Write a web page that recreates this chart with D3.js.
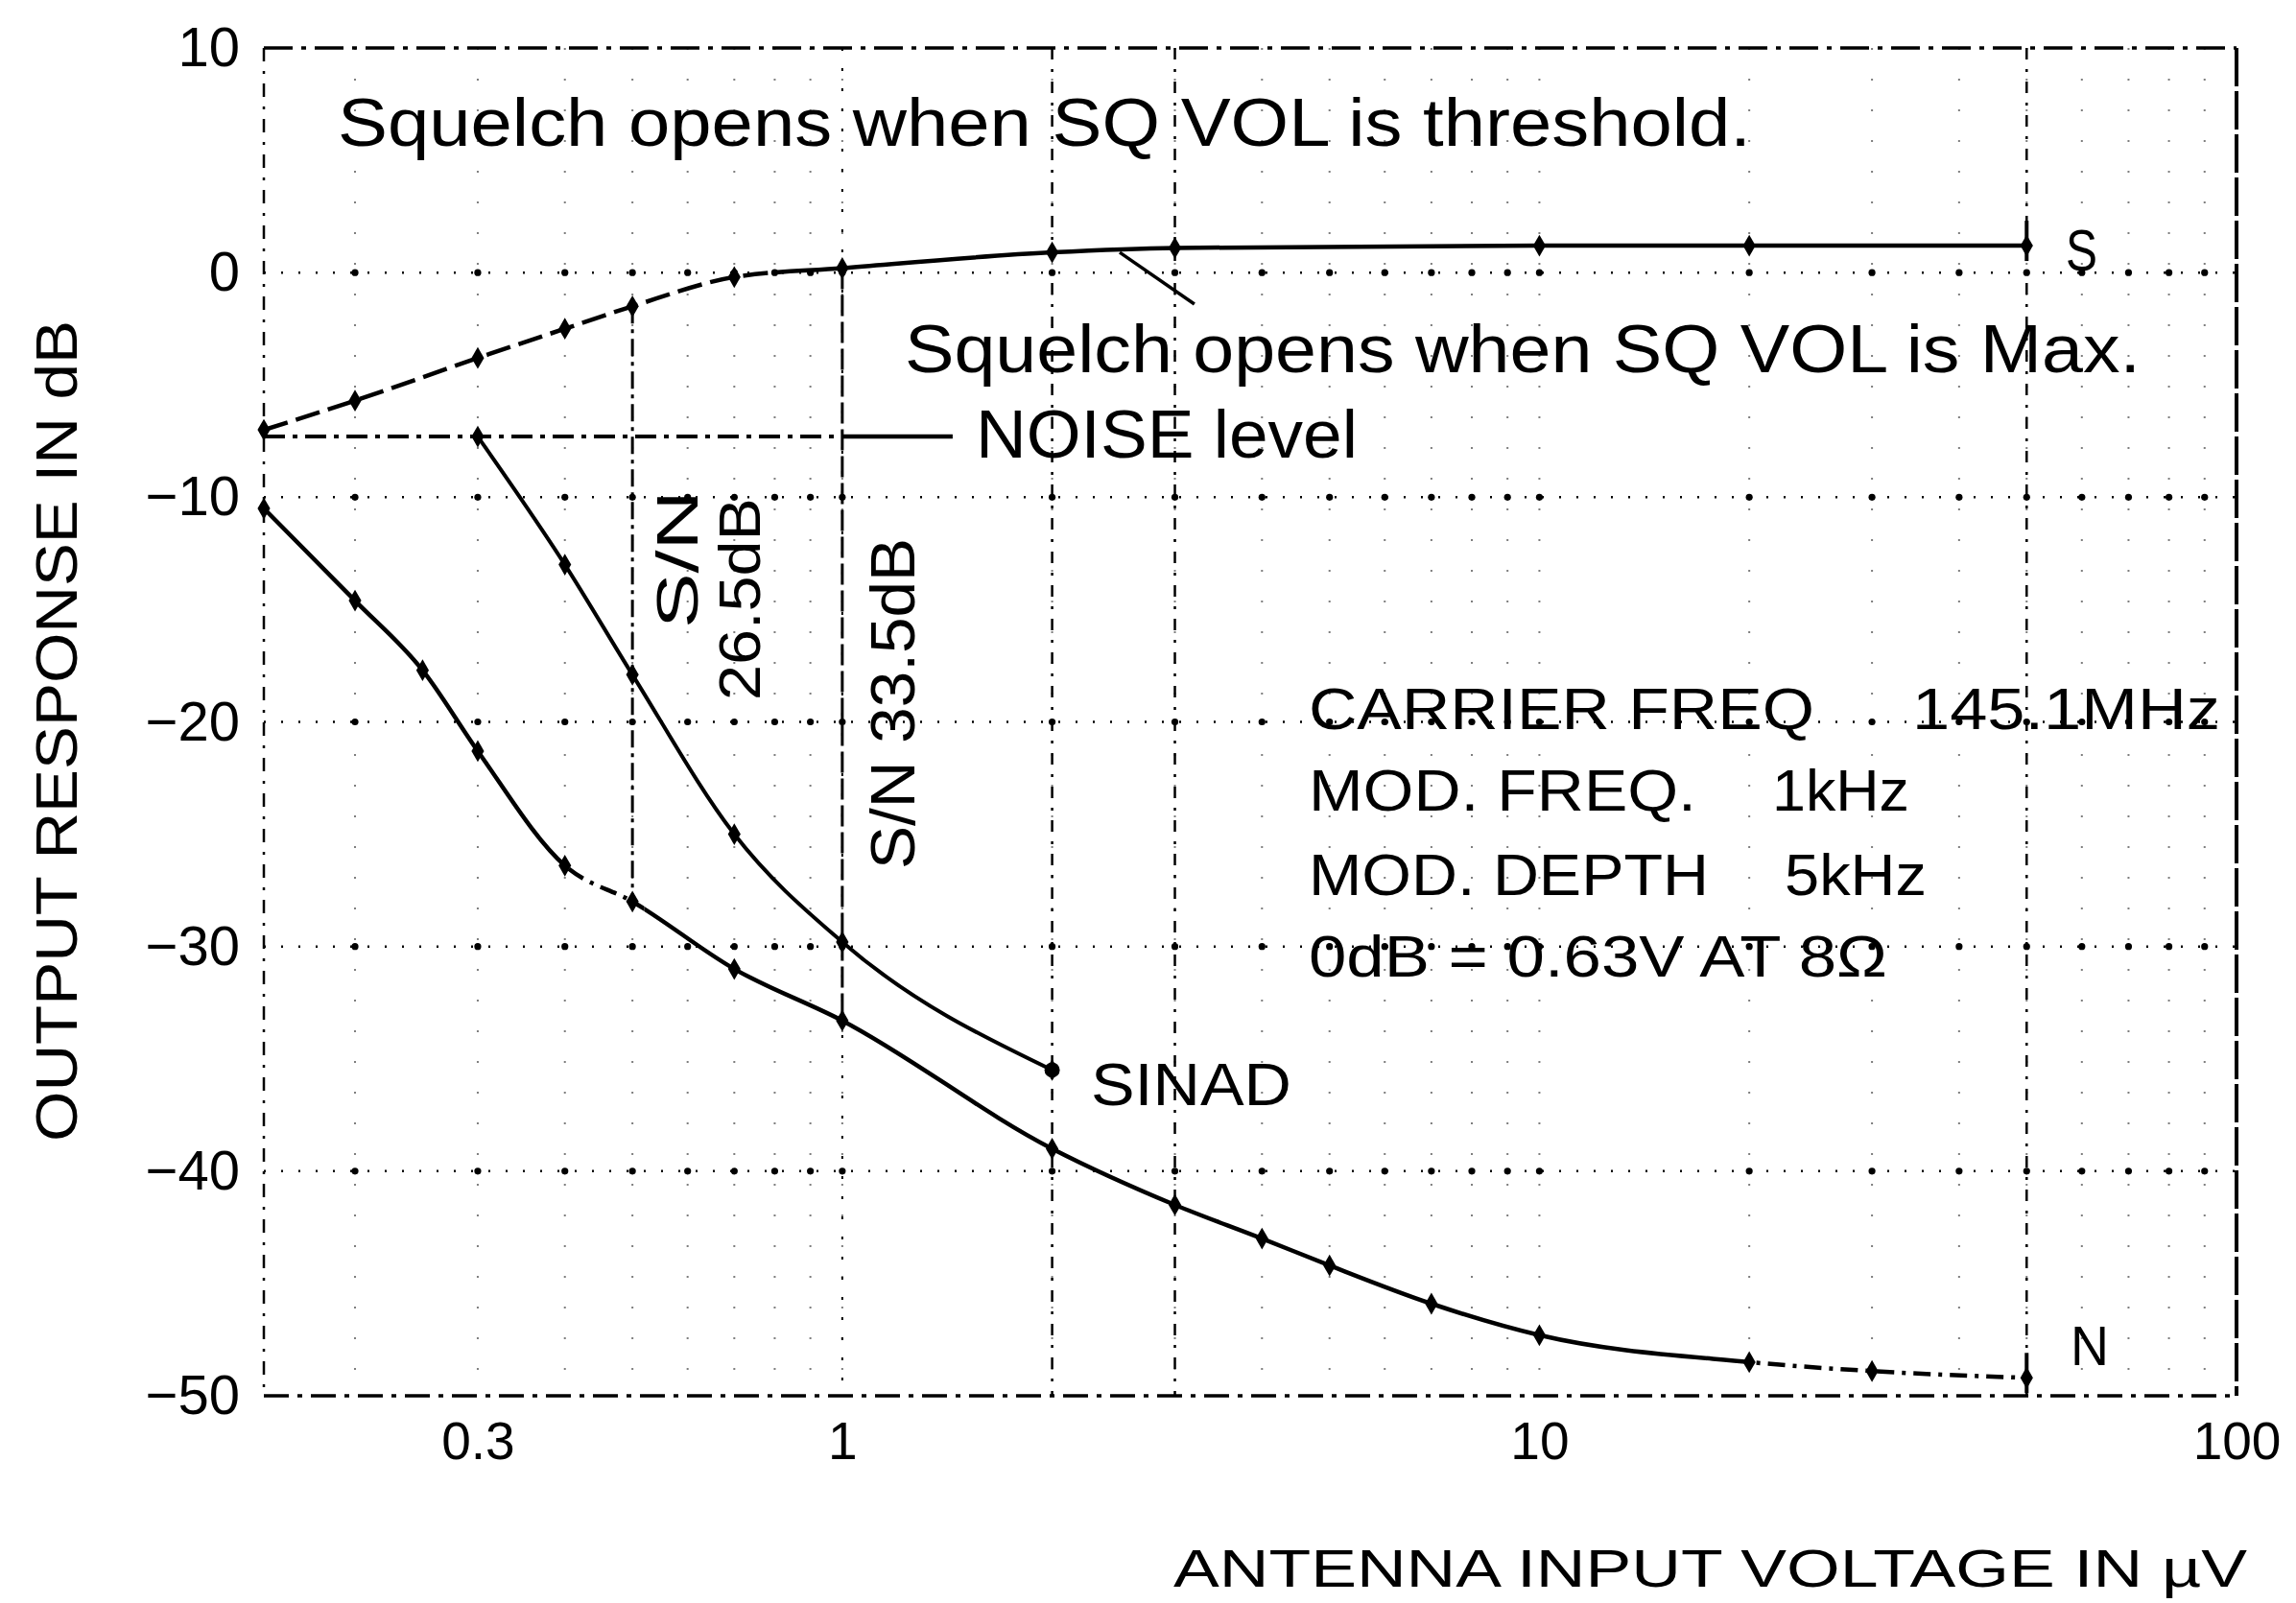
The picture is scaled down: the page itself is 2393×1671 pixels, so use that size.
<!DOCTYPE html>
<html>
<head>
<meta charset="utf-8">
<script src="https://cdn.jsdelivr.net/npm/d3@7"></script>
<style>
  html, body { margin: 0; padding: 0; background: #fff; }
  svg { display: block; }
  text { font-family: "Liberation Sans", Arial, Helvetica, sans-serif; fill: #000; }
</style>
</head>
<body>
<svg id="chart" width="2393" height="1671"></svg>
<script>
// ---- measured data (antenna input in µV, output in dB) ----
const sX = [0.148, 0.2, 0.3, 0.4, 0.5, 0.7, 1, 2, 3, 10, 20, 50];
const sY = [-7.0, -5.7, -3.8, -2.5, -1.5, -0.2, 0.2, 0.9, 1.1, 1.2, 1.2, 1.2];

const nX = [0.148, 0.2, 0.25, 0.3, 0.4, 0.5, 0.7, 1, 2, 3, 4, 5, 7, 10, 20, 30, 50];
const nY = [-10.5, -14.6, -17.7, -21.3, -26.4, -28.0, -31.0, -33.3, -39.0, -41.5, -43.0, -44.2, -45.9, -47.3, -48.5, -48.9, -49.2];

const sinadX = [0.3, 0.4, 0.5, 0.7, 1, 2];
const sinadY = [-7.3, -13.0, -17.9, -25.0, -29.8, -35.5];

const noiseLevel = -7.3;
const snInputs = [0.5, 1];
const snLabels = ["26.5dB", "S/N 33.5dB"];

const xTickValues = [0.3, 1, 10, 100];
const xTickLabels = ["0.3", "1", "10", "100"];
const yTickValues = [10, 0, -10, -20, -30, -40, -50];
const yTickLabels = ["10", "0", "−10", "−20", "−30", "−40", "−50"];
const yGridRows = [0, -10, -20, -30, -40];

// ---- layout ----
const W = 2393, H = 1671;
const plot = { left: 275, right: 2331, top: 50, bottom: 1455 };
const ink = "#000";

const svg = d3.select("#chart");
svg.append("rect").attr("width", W).attr("height", H).attr("fill", "#fff");
const defs = svg.append("defs");

const x = d3.scaleLog().domain([0.148, 100]).range([plot.left, plot.right]);
const y = d3.scaleLinear().domain([-50, 10]).range([plot.bottom, plot.top]);

// minor log grid positions (2..9 of every decade)
const minorX = [];
[0.1, 1, 10].forEach(dec => {
  for (let k = 1; k <= 9; k++) {
    const v = +(k * dec).toPrecision(3);
    if (v > 0.148 && v < 100) minorX.push(v);
  }
});

// ---- grid ----
const grid = svg.append("g");
grid.selectAll("line.vminor").data(minorX).join("line")
  .attr("class", "vminor")
  .attr("x1", d => x(d)).attr("x2", d => x(d))
  .attr("y1", y(10)).attr("y2", y(-50))
  .attr("stroke", ink).attr("stroke-width", 2)
  .attr("stroke-dasharray", "2,30").attr("opacity", 0.5);

grid.selectAll("line.vmajor").data([2, 3, 50]).join("line")
  .attr("class", "vmajor")
  .attr("x1", d => x(d)).attr("x2", d => x(d))
  .attr("y1", y(10)).attr("y2", y(-50))
  .attr("stroke", ink).attr("stroke-width", 2.5)
  .attr("stroke-dasharray", "12,10,3,10");

grid.selectAll("line.hrow").data(yGridRows).join("line")
  .attr("class", "hrow")
  .attr("x1", plot.left).attr("x2", plot.right)
  .attr("y1", d => y(d)).attr("y2", d => y(d))
  .attr("stroke", ink).attr("stroke-width", 2.5)
  .attr("stroke-dasharray", "2,16");

// dots where the rows cross the minor grid
const crossings = [];
yGridRows.forEach(r => minorX.forEach(v => crossings.push([v, r])));
grid.selectAll("circle.cross").data(crossings).join("circle")
  .attr("class", "cross")
  .attr("cx", d => x(d[0])).attr("cy", d => y(d[1]))
  .attr("r", 3.6).attr("fill", ink);

// frame
const frame = svg.append("g").attr("fill", "none").attr("stroke", ink);
frame.append("line").attr("x1", plot.left).attr("x2", plot.right)
  .attr("y1", y(10)).attr("y2", y(10))
  .attr("stroke-width", 3.5).attr("stroke-dasharray", "30,9,5,9");
frame.append("line").attr("x1", plot.left).attr("x2", plot.right)
  .attr("y1", y(-50)).attr("y2", y(-50))
  .attr("stroke-width", 3.5).attr("stroke-dasharray", "26,9,5,9");
frame.append("line").attr("x1", plot.left).attr("x2", plot.left)
  .attr("y1", y(10)).attr("y2", y(-50))
  .attr("stroke-width", 2.5).attr("stroke-dasharray", "14,10,3,10");
frame.append("line").attr("x1", plot.right).attr("x2", plot.right)
  .attr("y1", y(10)).attr("y2", y(-50))
  .attr("stroke-width", 4).attr("stroke-dasharray", "40,5");

// ---- axes (labels only) ----
const yAxis = svg.append("g")
  .attr("transform", `translate(${plot.left},0)`)
  .call(d3.axisLeft(y).tickValues(yTickValues)
    .tickFormat((d, i) => yTickLabels[i]).tickSize(0).tickPadding(25));
yAxis.select(".domain").remove();
yAxis.selectAll("text").attr("font-size", 58)
  .style("font-family", '"Liberation Sans", Arial, sans-serif').attr("fill", ink);

const xAxis = svg.append("g")
  .attr("transform", `translate(0,${plot.bottom})`)
  .call(d3.axisBottom(x).tickValues(xTickValues)
    .tickFormat((d, i) => xTickLabels[i]).tickSize(0).tickPadding(27));
xAxis.select(".domain").remove();
xAxis.selectAll("text").attr("font-size", 55)
  .style("font-family", '"Liberation Sans", Arial, sans-serif').attr("fill", ink);

svg.append("text")
  .attr("x", 1223).attr("y", 1654)
  .attr("font-size", 56).attr("textLength", 1119).attr("lengthAdjust", "spacingAndGlyphs")
  .text("ANTENNA INPUT VOLTAGE IN µV");

svg.append("text")
  .attr("transform", "translate(80,1190) rotate(-90)")
  .attr("font-size", 62).attr("textLength", 856).attr("lengthAdjust", "spacingAndGlyphs")
  .text("OUTPUT RESPONSE IN dB");

// ---- noise level line ----
const noiseEnd = 1.44;
svg.append("line")
  .attr("x1", x(0.148)).attr("x2", x(1)).attr("y1", y(noiseLevel)).attr("y2", y(noiseLevel))
  .attr("stroke", ink).attr("stroke-width", 4).attr("stroke-dasharray", "22,8,5,8");
svg.append("line")
  .attr("x1", x(1)).attr("x2", x(noiseEnd)).attr("y1", y(noiseLevel)).attr("y2", y(noiseLevel))
  .attr("stroke", ink).attr("stroke-width", 4.5);

// ---- S/N measuring lines ----
const valueAt = (xs, ys, v) => ys[xs.indexOf(v)];
svg.append("line")
  .attr("x1", x(snInputs[0])).attr("x2", x(snInputs[0]))
  .attr("y1", y(valueAt(sX, sY, snInputs[0]))).attr("y2", y(valueAt(nX, nY, snInputs[0])))
  .attr("stroke", ink).attr("stroke-width", 3).attr("stroke-dasharray", "18,6,4,6");
svg.append("line")
  .attr("x1", x(snInputs[1])).attr("x2", x(snInputs[1]))
  .attr("y1", y(valueAt(sX, sY, snInputs[1]))).attr("y2", y(valueAt(nX, nY, snInputs[1])))
  .attr("stroke", ink).attr("stroke-width", 3).attr("stroke-dasharray", "22,6");
svg.append("line")
  .attr("x1", x(1)).attr("x2", x(1))
  .attr("y1", y(10)).attr("y2", y(-50))
  .attr("stroke", ink).attr("stroke-width", 2).attr("stroke-dasharray", "3,18");

// ---- curves ----
const curves = svg.append("g");
function drawSeries(id, xs, ys, dashedSpans, dash, width) {
  const pts = xs.map((v, i) => [x(v), y(ys[i])]);
  const path = d3.line().curve(d3.curveMonotoneX)(pts);
  const spans = dashedSpans.map(([a, b]) => [x(a), x(b)]);
  const solid = [];
  let cur = 0;
  spans.forEach(([a, b]) => { solid.push([cur, a]); cur = b; });
  solid.push([cur, W]);
  const cs = defs.append("clipPath").attr("id", id + "-solid");
  solid.forEach(([a, b]) => cs.append("rect").attr("x", a).attr("y", 0)
    .attr("width", Math.max(0, b - a)).attr("height", H));
  const cd = defs.append("clipPath").attr("id", id + "-dash");
  spans.forEach(([a, b]) => cd.append("rect").attr("x", a).attr("y", 0)
    .attr("width", Math.max(0, b - a)).attr("height", H));
  curves.append("path").attr("d", path).attr("fill", "none").attr("stroke", ink)
    .attr("stroke-width", width).attr("clip-path", `url(#${id}-solid)`);
  if (spans.length) {
    curves.append("path").attr("d", path).attr("fill", "none").attr("stroke", ink)
      .attr("stroke-width", width).attr("stroke-dasharray", dash)
      .attr("clip-path", `url(#${id}-dash)`);
  }
  curves.selectAll(`path.mk-${id}`).data(pts).join("path")
    .attr("class", `mk-${id}`)
    .attr("transform", d => `translate(${d[0]},${d[1]})`)
    .attr("d", d3.symbol().type(d3.symbolDiamond).size(150)())
    .attr("fill", ink);
  return pts;
}

const sPts = drawSeries("s", sX, sY, [[0.148, 0.8]], "26,9", 4.5);
const nPts = drawSeries("n", nX, nY, [[0.4, 0.52], [20, 50]], "18,8,4,8", 4.5);
const iPts = drawSeries("sinad", sinadX, sinadY, [], "", 4);

// end ticks on S and N
[sPts[sPts.length - 1], nPts[nPts.length - 1]].forEach(p => {
  svg.append("line").attr("x1", p[0]).attr("x2", p[0])
    .attr("y1", p[1] - 26).attr("y2", p[1] + 16)
    .attr("stroke", ink).attr("stroke-width", 4);
});
// end blob on SINAD
svg.append("circle").attr("cx", iPts[iPts.length - 1][0]).attr("cy", iPts[iPts.length - 1][1])
  .attr("r", 8).attr("fill", ink);

// pointer from the "Max" note to the S curve
svg.append("line")
  .attr("x1", x(2.5)).attr("y1", y(0.9)).attr("x2", x(3.2)).attr("y2", y(-1.4))
  .attr("stroke", ink).attr("stroke-width", 3.5);

// ---- annotations ----
const notes = svg.append("g");
function note(txt, px, py, size, len) {
  notes.append("text").attr("x", px).attr("y", py).attr("font-size", size)
    .attr("textLength", len).attr("lengthAdjust", "spacingAndGlyphs").text(txt);
}
note("Squelch opens when SQ VOL is threshold.", 352, 152, 70, 1473);
note("Squelch opens when SQ VOL is Max.", 943, 388, 70, 1288);
note("NOISE level", 1017, 477, 70, 398);

note("CARRIER FREQ", 1364, 760, 61, 527);
note("145.1MHz", 1993, 760, 61, 321);
note("MOD. FREQ.", 1364, 845, 61, 404);
note("1kHz", 1847, 845, 61, 143);
note("MOD. DEPTH", 1364, 933, 61, 417);
note("5kHz", 1860, 933, 61, 148);
note("0dB = 0.63V AT 8Ω", 1364, 1018, 61, 603);

note("SINAD", 1137, 1152, 63, 209);
note("S", 2153, 282, 62, 33);
note("N", 2158, 1423, 57, 40);

// rotated S/N readings
function vnote(txt, bx, by, size, len) {
  notes.append("text").attr("transform", `translate(${bx},${by}) rotate(-90)`)
    .attr("font-size", size).attr("textLength", len).attr("lengthAdjust", "spacingAndGlyphs")
    .text(txt);
}
vnote("S/N", 727, 655, 62, 144);
vnote(snLabels[0], 792, 730, 62, 211);
vnote(snLabels[1], 953, 906, 64, 345);
</script>
</body>
</html>
